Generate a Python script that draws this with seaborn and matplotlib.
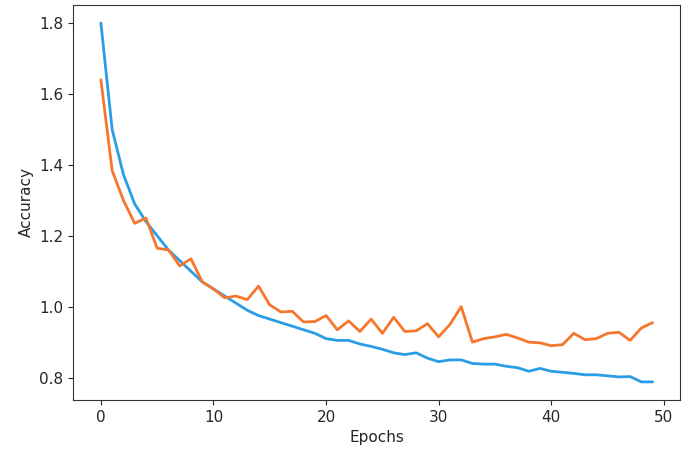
import numpy as np
import pandas as pd
import matplotlib
matplotlib.use("Agg")
import matplotlib.pyplot as plt
import seaborn as sns

# values
epochs = list(range(50))
train_acc = [1.80, 1.50, 1.373, 1.29, 1.24, 1.20, 1.16, 1.13, 1.10, 1.07,
             1.05, 1.03, 1.01, 0.99, 0.975, 0.965, 0.955, 0.945, 0.935, 0.925,
             0.91, 0.905, 0.905, 0.895, 0.888, 0.88, 0.87, 0.865, 0.87, 0.855,
             0.845, 0.85, 0.85, 0.84, 0.838, 0.838, 0.832, 0.828, 0.818, 0.826,
             0.818, 0.815, 0.812, 0.808, 0.808, 0.805, 0.802, 0.803, 0.788, 0.788]
val_acc = [1.64, 1.384, 1.30, 1.235, 1.25, 1.165, 1.16, 1.115, 1.135, 1.07,
           1.05, 1.025, 1.03, 1.02, 1.058, 1.005, 0.985, 0.987, 0.957, 0.958,
           0.975, 0.935, 0.96, 0.93, 0.965, 0.925, 0.97, 0.93, 0.932, 0.952,
           0.915, 0.95, 1.0, 0.90, 0.91, 0.915, 0.922, 0.912, 0.90, 0.898,
           0.89, 0.893, 0.925, 0.907, 0.91, 0.925, 0.928, 0.905, 0.94, 0.955]

df = pd.DataFrame({"Epochs": epochs, "train": train_acc, "val": val_acc})

sns.set_style("ticks")
plt.rcParams['font.family'] = ['DejaVu Sans']

fig = plt.figure(figsize=(6.85, 4.58), dpi=100)
ax = fig.add_axes([0.107, 0.127, 0.886, 0.862])

sns.lineplot(data=df, x="Epochs", y="train", color="#2b9de6", linewidth=2, ax=ax)
sns.lineplot(data=df, x="Epochs", y="val", color="#f5772e", linewidth=2, ax=ax)

ax.set_xlabel("Epochs", fontsize=11)
ax.set_ylabel("Accuracy", fontsize=11)
ax.set_xticks([0, 10, 20, 30, 40, 50])
ax.set_yticks([0.8, 1.0, 1.2, 1.4, 1.6, 1.8])
ax.tick_params(labelsize=11)
for s in ax.spines.values():
    s.set_color("#333333")

fig.savefig("out.png", dpi=100)
plt.close(fig)
